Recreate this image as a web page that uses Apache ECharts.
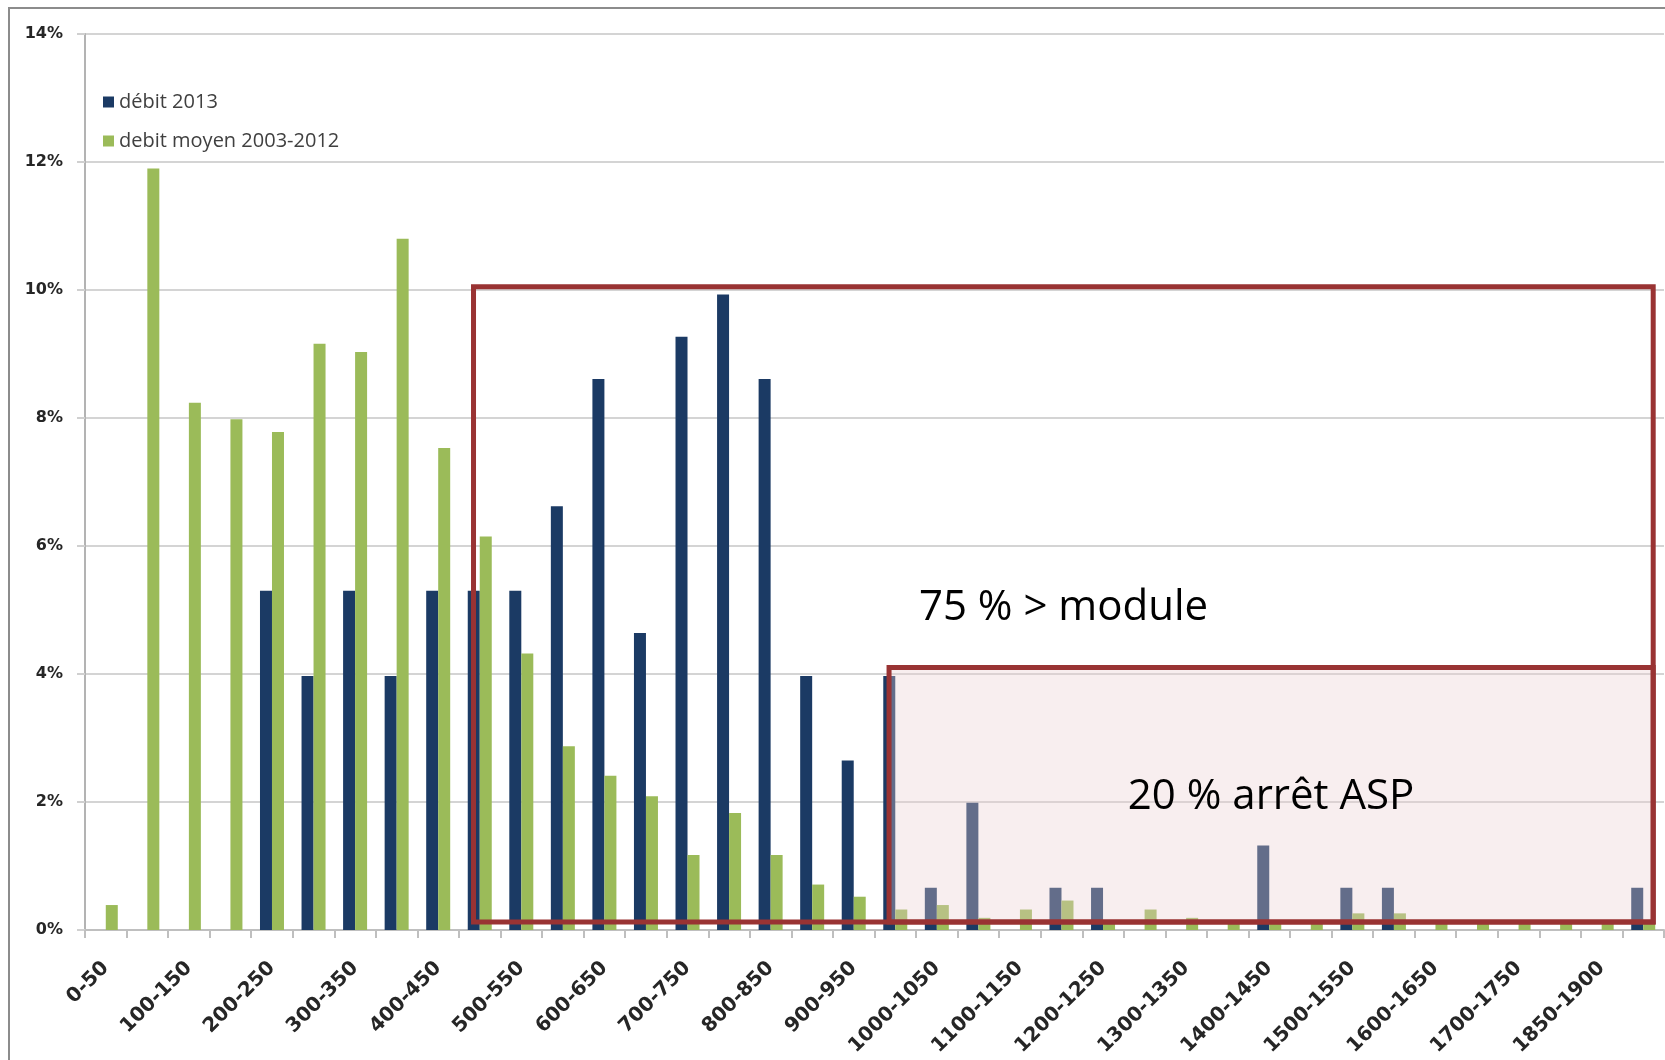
<!DOCTYPE html>
<html>
<head>
<meta charset="utf-8">
<script src="https://cdn.jsdelivr.net/npm/echarts@6/dist/echarts.min.js"></script>
<style>
html,body{margin:0;padding:0;background:#fff;}
#chart{width:1665px;height:1060px;}
</style>
</head>
<body>
<div id="chart"></div>
<script>
const categories = ["0-50","50-100","100-150","150-200","200-250","250-300","300-350","350-400","400-450","450-500",
  "500-550","550-600","600-650","650-700","700-750","750-800","800-850","850-900","900-950","950-1000",
  "1000-1050","1050-1100","1100-1150","1150-1200","1200-1250","1250-1300","1300-1350","1350-1400","1400-1450","1450-1500",
  "1500-1550","1550-1600","1600-1650","1650-1700","1700-1750","1800-1850","1850-1900","1900-1950"];
const debit2013 = [0,0,0,0,5.30,3.97,5.30,3.97,5.30,5.30,
  5.30,6.62,8.61,4.64,9.27,9.93,8.61,3.97,2.65,3.97,
  0.66,1.99,0,0.66,0.66,0,0,0,1.32,0,
  0.66,0.66,0,0,0,0,0,0.66];
const debitMoyen = [0.39,11.90,8.24,7.98,7.78,9.16,9.03,10.80,7.53,6.15,
  4.32,2.87,2.41,2.09,1.17,1.83,1.17,0.71,0.52,0.32,
  0.39,0.19,0.32,0.46,0.10,0.32,0.19,0.10,0.10,0.10,
  0.26,0.26,0.10,0.10,0.10,0.10,0.10,0.10];
const seriesNames = ["débit 2013", "debit moyen 2003-2012"];
const yTicks = [0, 2, 4, 6, 8, 10, 12, 14];
// annotation boxes: [first category index, last category index, top value (%), bottom value (%)]
const boxOuter = [9, 37, 10.05, 0.125];
const boxInner = [19, 37, 4.1, 0.125];
const labelOuter = "75 % > module";
const labelInner = "20 % arrêt ASP";

const chart = echarts.init(document.getElementById('chart'), null, {renderer: 'canvas'});
const axisFont = {fontFamily: 'DejaVu Sans', fontWeight: 'bold', color: '#262626'};
chart.setOption({
  animation: false,
  backgroundColor: '#ffffff',
  grid: {left: 85, right: 1, top: 34, bottom: 130, containLabel: false},
  legend: [
    {data: [seriesNames[0]], left: 98, top: 87, orient: 'vertical', icon: 'rect', itemWidth: 11, itemHeight: 11,
      textStyle: {fontFamily: 'Open Sans', fontSize: 20, color: '#404040'}},
    {data: [seriesNames[1]], left: 98, top: 126, orient: 'vertical', icon: 'rect', itemWidth: 11, itemHeight: 11,
      textStyle: {fontFamily: 'Open Sans', fontSize: 20, color: '#404040'}}
  ],
  xAxis: {
    type: 'category', data: categories,
    axisLine: {show: true, lineStyle: {color: '#bfbfbf', width: 2}},
    axisTick: {show: true, interval: 0, length: 8, lineStyle: {color: '#bfbfbf', width: 2}},
    axisLabel: Object.assign({interval: 1, rotate: 45, margin: 35, fontSize: 20}, axisFont),
    splitLine: {show: false}
  },
  yAxis: {
    type: 'value', min: yTicks[0], max: yTicks[yTicks.length - 1], interval: 2,
    axisLine: {show: true, lineStyle: {color: '#b3b3b3', width: 2}},
    axisTick: {show: true, length: 8, lineStyle: {color: '#d0d0d0', width: 2}},
    axisLabel: Object.assign({formatter: '{value}%', margin: 22, fontSize: 16}, axisFont),
    splitLine: {show: true, lineStyle: {color: '#d4d4d4', width: 2}}
  },
  series: [
    {name: seriesNames[0], type: 'bar', data: debit2013, barWidth: 12, barGap: '0%',
      itemStyle: {color: '#1b3a64'}},
    {name: seriesNames[1], type: 'bar', data: debitMoyen, barWidth: 12, barGap: '0%',
      itemStyle: {color: '#9bbb59'}}
  ]
});

function boxRect(b) {
  const c0 = chart.convertToPixel({xAxisIndex: 0}, 0);
  const c1 = chart.convertToPixel({xAxisIndex: 0}, 1);
  const bw = c1 - c0;
  const xl = chart.convertToPixel({xAxisIndex: 0}, b[0]) - 0.15 * bw;
  const xr = chart.convertToPixel({xAxisIndex: 0}, b[1]) + 0.24 * bw;
  const yt = chart.convertToPixel({yAxisIndex: 0}, b[2]);
  const yb = chart.convertToPixel({yAxisIndex: 0}, b[3]);
  return {x: xl, y: yt, width: xr - xl, height: yb - yt};
}
const ro = boxRect(boxOuter);
const ri = boxRect(boxInner);
const red = '#993333';
chart.setOption({
  graphic: [
    {type: 'polyline', shape: {points: [[9, 1060], [9, 8], [1665, 8]]}, style: {stroke: '#8c8c8c', lineWidth: 2, fill: null}, z: 100},
    {type: 'rect', shape: ri, style: {fill: 'rgba(235,205,208,0.35)', stroke: null}, z: 100},
    {type: 'rect', shape: ro, style: {fill: null, stroke: red, lineWidth: 5}, z: 101},
    {type: 'rect', shape: ri, style: {fill: null, stroke: red, lineWidth: 5}, z: 102},
    {type: 'text', x: ro.x + 590, y: 608, style: {text: labelOuter, font: '42px "Open Sans"', fill: '#000', textAlign: 'center', textVerticalAlign: 'middle'}, z: 103},
    {type: 'text', x: ri.x + 382, y: 797, style: {text: labelInner, font: '42px "Open Sans"', fill: '#000', textAlign: 'center', textVerticalAlign: 'middle'}, z: 103}
  ]
});
</script>
</body>
</html>
